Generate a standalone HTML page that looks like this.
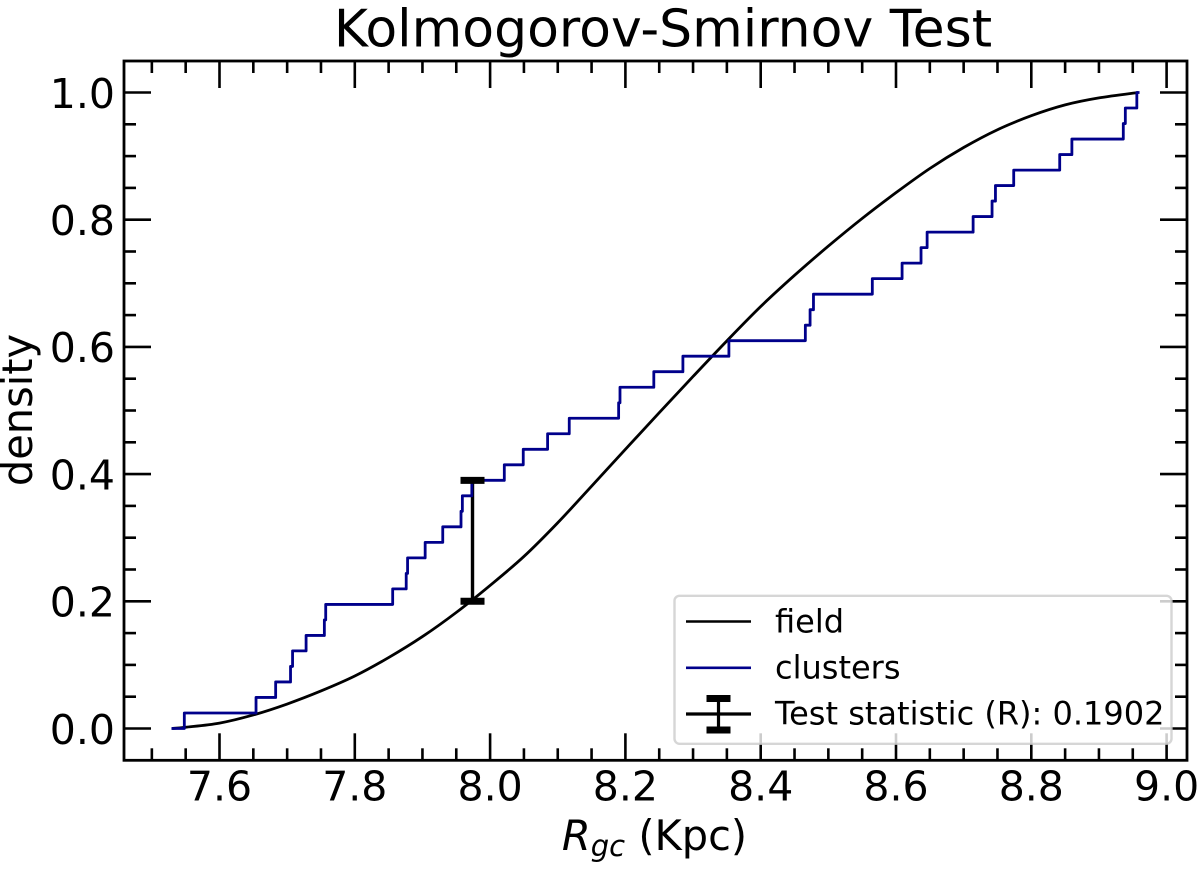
<!DOCTYPE html>
<html>
<head>
<meta charset="utf-8">
<title>Kolmogorov-Smirnov Test</title>
<style>
  html, body { margin: 0; padding: 0; background: #fff; }
  svg { display: block; font-family: "DejaVu Sans", "Liberation Sans", sans-serif; }
</style>
</head>
<body>
<svg id="chart" xmlns="http://www.w3.org/2000/svg" width="1200" height="869" viewBox="0 0 1200 869">
  <rect x="0" y="0" width="1200" height="869" fill="#ffffff"/>
  <text x="663" y="46.7" font-size="52" text-anchor="middle" fill="#000">Kolmogorov-Smirnov Test</text>
  <text transform="translate(32,410) rotate(-90)" font-size="41.5" text-anchor="middle" fill="#000">density</text>
  <text x="654.5" y="850" font-size="41.5" text-anchor="middle" fill="#000"><tspan font-style="italic">R</tspan><tspan font-style="italic" font-size="29" dy="6">gc</tspan><tspan dy="-6"> (Kpc)</tspan></text>
  <g id="ticks"></g>
  <g id="tick-labels"></g>
  <g id="marks"></g>
  <rect x="124" y="61" width="1063" height="699.3" fill="none" stroke="#000" stroke-width="2.8"/>
  <g>
    <rect x="674.5" y="595.8" width="497" height="148" rx="5" ry="5" fill="#ffffff" fill-opacity="0.8" stroke="#cccccc" stroke-opacity="0.8" stroke-width="2.4"/>
    <g>
      <line x1="686" y1="621.5" x2="751" y2="621.5" stroke="#000" stroke-width="2.6"/>
      <text x="775" y="632.5" font-size="32" fill="#000">field</text>
    </g>
    <g>
      <line x1="686" y1="667.8" x2="751" y2="667.8" stroke="#00008b" stroke-width="2.6"/>
      <text x="775" y="678.5" font-size="32" fill="#000">clusters</text>
    </g>
    <g>
      <line x1="686" y1="714" x2="751" y2="714" stroke="#000" stroke-width="3.2"/>
      <line x1="718.5" y1="698.5" x2="718.5" y2="730" stroke="#000" stroke-width="3.2"/>
      <line x1="706.5" y1="698.5" x2="730.5" y2="698.5" stroke="#000" stroke-width="7"/>
      <line x1="706.5" y1="730" x2="730.5" y2="730" stroke="#000" stroke-width="7"/>
      <text x="775" y="724.5" font-size="32" fill="#000">Test statistic (R): 0.1902</text>
    </g>
  </g>
</svg>
<script>
const xMajorTicks = [7.6, 7.8, 8.0, 8.2, 8.4, 8.6, 8.8, 9.0];
const xTickLabels = ["7.6", "7.8", "8.0", "8.2", "8.4", "8.6", "8.8", "9.0"];
const xMinorTicks = [7.5, 7.55, 7.65, 7.7, 7.75, 7.85, 7.9, 7.95, 8.05, 8.1, 8.15, 8.25, 8.3, 8.35, 8.45, 8.5, 8.55, 8.65, 8.7, 8.75, 8.85, 8.9, 8.95];
const yMajorTicks = [0.0, 0.2, 0.4, 0.6, 0.8, 1.0];
const yTickLabels = ["0.0", "0.2", "0.4", "0.6", "0.8", "1.0"];
const yMinorTicks = [0.05, 0.1, 0.15, 0.25, 0.3, 0.35, 0.45, 0.5, 0.55, 0.65, 0.7, 0.75, 0.85, 0.9, 0.95];

const fieldX = [7.53, 7.55, 7.6, 7.65, 7.7, 7.75, 7.8, 7.85, 7.9, 7.95, 8.0, 8.05, 8.1, 8.15, 8.2, 8.25, 8.3, 8.35, 8.4, 8.45, 8.5, 8.55, 8.6, 8.65, 8.7, 8.75, 8.8, 8.85, 8.9, 8.958];
const fieldY = [0, 0.002, 0.0085, 0.0213, 0.0385, 0.059, 0.0825, 0.1115, 0.1445, 0.1825, 0.225, 0.2705, 0.3235, 0.381, 0.439, 0.4965, 0.5535, 0.6095, 0.6635, 0.7125, 0.7585, 0.802, 0.8425, 0.8805, 0.9135, 0.9415, 0.9635, 0.9805, 0.9915, 1.0];

const clusterX = [7.529, 7.548, 7.654, 7.683, 7.705, 7.708, 7.728, 7.755, 7.757, 7.856, 7.876, 7.878, 7.904, 7.93, 7.957, 7.959, 7.973, 8.021, 8.049, 8.085, 8.117, 8.19, 8.192, 8.242, 8.285, 8.353, 8.466, 8.473, 8.478, 8.565, 8.609, 8.637, 8.646, 8.714, 8.742, 8.747, 8.774, 8.842, 8.86, 8.936, 8.939, 8.956, 8.96];
const clusterY = [0, 0.0244, 0.0488, 0.0732, 0.0976, 0.122, 0.1463, 0.1707, 0.1951, 0.2195, 0.2439, 0.2683, 0.2927, 0.3171, 0.3415, 0.3659, 0.3902, 0.4146, 0.439, 0.4634, 0.4878, 0.5122, 0.5366, 0.561, 0.5854, 0.6098, 0.6341, 0.6585, 0.6829, 0.7073, 0.7317, 0.7561, 0.7805, 0.8049, 0.8293, 0.8537, 0.878, 0.9024, 0.9268, 0.9512, 0.9756, 1.0, 1.0];

const statX = 7.974;
const statLow = 0.2;
const statHigh = 0.3902;

const SVG_NS = "http://www.w3.org/2000/svg";
function xScale(v) { return 219.5 + (v - 7.6) * 676.5; }
function yScale(v) { return 728.5 - v * 636; }
const AXIS_LEFT = 124, AXIS_RIGHT = 1187, AXIS_TOP = 61, AXIS_BOTTOM = 760.3;
const MAJOR_LEN = 27, MINOR_LEN = 12;

function makeLine(parent, x1, y1, x2, y2, color, width) {
  const el = document.createElementNS(SVG_NS, "line");
  el.setAttribute("x1", x1);
  el.setAttribute("y1", y1);
  el.setAttribute("x2", x2);
  el.setAttribute("y2", y2);
  el.setAttribute("stroke", color);
  el.setAttribute("stroke-width", width);
  parent.appendChild(el);
  return el;
}
function makeText(parent, x, y, str, anchor) {
  const el = document.createElementNS(SVG_NS, "text");
  el.setAttribute("x", x);
  el.setAttribute("y", y);
  el.setAttribute("font-size", "41");
  el.setAttribute("text-anchor", anchor);
  el.setAttribute("fill", "#000");
  el.textContent = str;
  parent.appendChild(el);
  return el;
}
function makePath(parent, d, color, width) {
  const el = document.createElementNS(SVG_NS, "path");
  el.setAttribute("d", d);
  el.setAttribute("fill", "none");
  el.setAttribute("stroke", color);
  el.setAttribute("stroke-width", width);
  el.setAttribute("stroke-linejoin", "round");
  parent.appendChild(el);
  return el;
}

const tickGroup = document.getElementById("ticks");
const labelGroup = document.getElementById("tick-labels");
const markGroup = document.getElementById("marks");

function drawXTick(v, len, name) {
  const x = xScale(v);
  const bottom = makeLine(tickGroup, x, AXIS_BOTTOM, x, AXIS_BOTTOM - len, "#000", 2.6);
  
  
  const top = makeLine(tickGroup, x, AXIS_TOP, x, AXIS_TOP + len, "#000", 2.6);
  
  
}
function drawYTick(v, len, name) {
  const y = yScale(v);
  const left = makeLine(tickGroup, AXIS_LEFT, y, AXIS_LEFT + len, y, "#000", 2.6);
  
  
  const right = makeLine(tickGroup, AXIS_RIGHT, y, AXIS_RIGHT - len, y, "#000", 2.6);
  
  
}

xMinorTicks.forEach(function (v) { drawXTick(v, MINOR_LEN, "x-minor-tick"); });
xMajorTicks.forEach(function (v, i) {
  drawXTick(v, MAJOR_LEN, "x-major-tick");
  const label = makeText(labelGroup, xScale(v), 800.7, xTickLabels[i], "middle");
  
  
});
yMinorTicks.forEach(function (v) { drawYTick(v, MINOR_LEN, "y-minor-tick"); });
yMajorTicks.forEach(function (v, i) {
  drawYTick(v, MAJOR_LEN, "y-major-tick");
  const label = makeText(labelGroup, 115, yScale(v) + 15.3, yTickLabels[i], "end");
  
  
});

/* Smooth curve through the read points (Catmull-Rom converted to cubic Beziers). */
function smoothPath(xs, ys) {
  const px = xs.map(xScale);
  const py = ys.map(yScale);
  let d = "M" + px[0].toFixed(2) + " " + py[0].toFixed(2);
  for (let i = 0; i < px.length - 1; i++) {
    const a = Math.max(i - 1, 0);
    const b = Math.min(i + 2, px.length - 1);
    const c1x = px[i] + (px[i + 1] - px[a]) / 6;
    const c1y = py[i] + (py[i + 1] - py[a]) / 6;
    const c2x = px[i + 1] - (px[b] - px[i]) / 6;
    const c2y = py[i + 1] - (py[b] - py[i]) / 6;
    d += "C" + c1x.toFixed(2) + " " + c1y.toFixed(2) + " " + c2x.toFixed(2) + " " + c2y.toFixed(2) + " " + px[i + 1].toFixed(2) + " " + py[i + 1].toFixed(2);
  }
  return d;
}
const fieldLine = makePath(markGroup, smoothPath(fieldX, fieldY), "#000000", 2.8);



const statStem = makeLine(markGroup, xScale(statX), yScale(statLow), xScale(statX), yScale(statHigh), "#000", 3.4);



let clusterD = "M" + xScale(clusterX[0]).toFixed(2) + " " + yScale(clusterY[0]).toFixed(2);
for (let i = 1; i < clusterX.length; i++) {
  clusterD += "H" + xScale(clusterX[i]).toFixed(2) + "V" + yScale(clusterY[i]).toFixed(2);
}
const clusterLine = makePath(markGroup, clusterD, "#00008b", 2.8);



const capLow = makeLine(markGroup, xScale(statX) - 12, yScale(statLow), xScale(statX) + 12, yScale(statLow), "#000", 7);


const capHigh = makeLine(markGroup, xScale(statX) - 12, yScale(statHigh), xScale(statX) + 12, yScale(statHigh), "#000", 7);


</script>
</body>
</html>
